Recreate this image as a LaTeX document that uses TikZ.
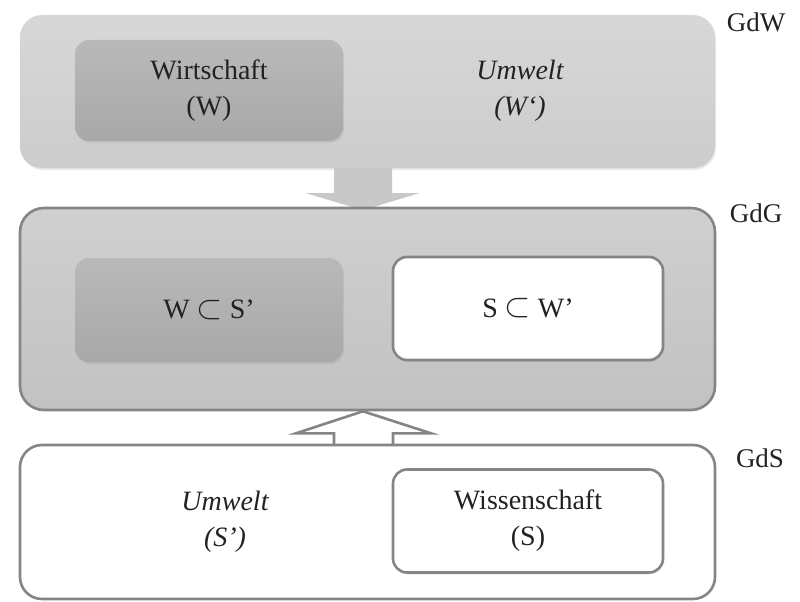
\documentclass[tikz,border=0pt]{standalone}
\usepackage{fontspec}
\setmainfont{Liberation Serif}
\usetikzlibrary{calc,shadows}
\definecolor{bordergray}{HTML}{858585}
\definecolor{txt}{HTML}{222222}
\newcommand{\mysub}{\raisebox{0.5pt}{\scalebox{1.35}{$\subset$}}}
\begin{document}
\begin{tikzpicture}[x=1pt,y=-1pt,
  every node/.style={text=txt,font=\fontsize{28}{34}\selectfont,align=center},
  outerlight/.style={rounded corners=22pt,top color=gray!31,bottom color=gray!40,
    drop shadow={opacity=0.18,shadow xshift=1pt,shadow yshift=-2pt}},
  outermid/.style={rounded corners=24pt,top color=gray!37,bottom color=gray!48,
    draw=bordergray,line width=2.6pt},
  outerwhite/.style={rounded corners=22pt,fill=white,draw=bordergray,line width=2.6pt},
  innerdark/.style={rounded corners=14pt,top color=gray!55,bottom color=gray!68,
    drop shadow={opacity=0.15,shadow xshift=1pt,shadow yshift=-2pt}},
  innerwhite/.style={rounded corners=14pt,fill=white,draw=bordergray,line width=2.6pt,
    drop shadow={opacity=0.15,shadow xshift=1pt,shadow yshift=-2pt}},
  lbl/.style={font=\fontsize{27}{32}\selectfont}
]
\useasboundingbox (0,0) rectangle (800,602);

% top box
\node[outerlight,minimum width=695pt,minimum height=153pt] (gdw) at (367.5,91.5) {};
\node[innerdark,minimum width=268pt,minimum height=101pt] (wirt) at (209,90.5) {};
\node at (wirt) {Wirtschaft\\[2pt](W)};
\node (umw) at (520,90.5) {\itshape Umwelt\\[2pt]\itshape (W‘)};
\node[lbl] (lgdw) at (756,22) {GdW};

% down arrow
\coordinate (da) at (gdw.south -| 363,0);
\fill[gray!43] ($(da)+(-29,0)$) -- ($(da)+(29,0)$) -- ($(da)+(29,25)$) -- ($(da)+(56,25)$)
  -- ($(da)+(0,42)$) -- ($(da)+(-57,25)$) -- ($(da)+(-29,25)$) -- cycle;

% middle box
\node[outermid,minimum width=695pt,minimum height=202pt] (gdg) at (367.5,309) {};
\node[innerdark,minimum width=268pt,minimum height=104pt] (wsub) at (209,310) {};
\node at (wsub) {W \mysub\ S’};
\node[innerwhite,minimum width=270pt,minimum height=103pt] (ssub) at (528,308.5) {S \mysub\ W’};
\node[lbl] (lgdg) at (756,213) {GdG};

% up arrow
\coordinate (ua) at (gdg.south -| 363,0);
\draw[bordergray,line width=2.6pt,fill=white,line join=miter]
  ($(ua)+(-29,35)$) -- ($(ua)+(-29,22)$) -- ($(ua)+(-67,22)$) -- (ua)
  -- ($(ua)+(68,22)$) -- ($(ua)+(30,22)$) -- ($(ua)+(30,35)$);

% bottom box
\node[outerwhite,minimum width=695pt,minimum height=154pt] (gds) at (367.5,522) {};
\node (umws) at (225,522) {\itshape Umwelt\\[2pt]\itshape (S’)};
\node[innerwhite,minimum width=270pt,minimum height=103pt] (wiss) at (528,521) {Wissenschaft\\[2pt](S)};
\node[lbl] (lgds) at (760,458) {GdS};
\end{tikzpicture}
\end{document}
